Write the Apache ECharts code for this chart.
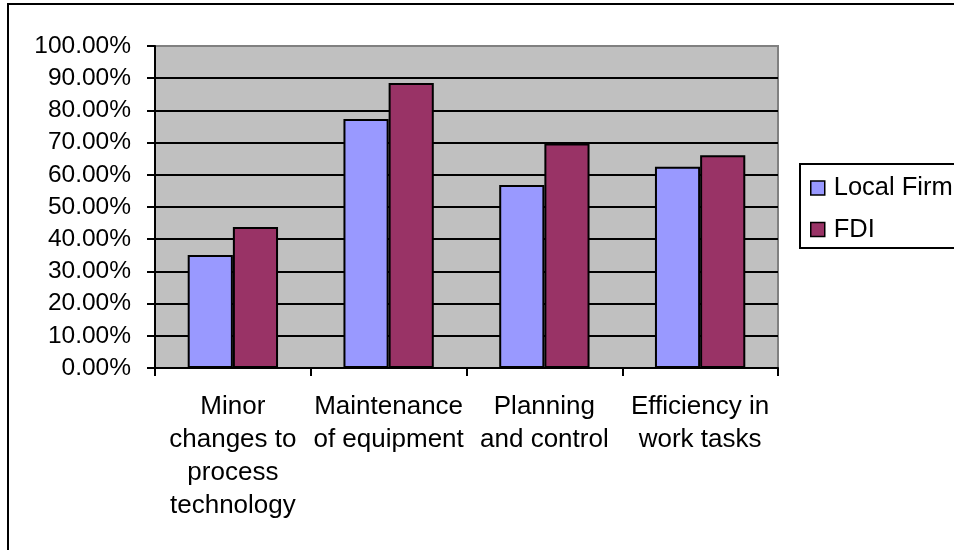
<!DOCTYPE html>
<html>
<head>
<meta charset="utf-8">
<script src="https://cdn.jsdelivr.net/npm/echarts@6/dist/echarts.min.js"></script>
<style>
  html, body { margin: 0; padding: 0; background: #fff; }
  #chart { width: 954px; height: 550px; }
</style>
</head>
<body>
<div id="chart"></div>
<script>
// Share of firms reporting each capability, by ownership type
const categories = [
  'Minor\nchanges to\nprocess\ntechnology',
  'Maintenance\nof equipment',
  'Planning\nand control',
  'Efficiency in\nwork tasks'
];
const localFirm = [35.1, 77.3, 56.8, 62.5];
const fdi = [43.8, 88.5, 69.7, 66.1];
const seriesNames = ['Local Firm', 'FDI'];

const FONT = '"Liberation Sans", Arial, sans-serif';

// 10% .. 90% gridlines black, the 100% edge grey like the frame
const splitColors = [];
for (let i = 0; i <= 10; i++) splitColors.push(i === 10 ? '#808080' : '#000000');

const chart = echarts.init(document.getElementById('chart'), null, { renderer: 'canvas' });

chart.setOption({
  animation: false,
  backgroundColor: '#ffffff',
  textStyle: { fontFamily: FONT },
  grid: {
    left: 155, top: 46, width: 623, height: 322,
    show: true,
    backgroundColor: '#c0c0c0',
    borderColor: '#808080',
    borderWidth: 2
  },
  legend: {
    data: seriesNames,
    orient: 'vertical',
    left: 810, top: 175,
    itemWidth: 14, itemHeight: 14,
    itemGap: 15.5,
    padding: 0,
    icon: 'rect',
    itemStyle: { borderColor: '#000', borderWidth: 1.5 },
    textStyle: { fontFamily: FONT, fontSize: 25.5, color: '#000', padding: [0, 0, 0, 4] }
  },
  xAxis: {
    type: 'category',
    data: categories,
    axisLine: { lineStyle: { color: '#000', width: 2 } },
    axisTick: { show: true, length: 8, lineStyle: { color: '#000', width: 2 } },
    axisLabel: {
      interval: 0, margin: 22, color: '#000',
      fontFamily: FONT, fontSize: 26, lineHeight: 33, align: 'center'
    },
    splitLine: { show: false }
  },
  yAxis: {
    type: 'value',
    min: 0, max: 100, interval: 10,
    axisLine: { show: true, lineStyle: { color: '#000', width: 2 } },
    axisTick: { show: true, length: 8, lineStyle: { color: '#000', width: 2 } },
    axisLabel: {
      margin: 24, color: '#000', fontFamily: FONT, fontSize: 24.5,
      formatter: v => v.toFixed(2) + '%'
    },
    splitLine: { show: true, lineStyle: { color: splitColors, width: 2 } }
  },
  series: [
    {
      name: seriesNames[0], type: 'bar', data: localFirm,
      barGap: '0%', barCategoryGap: '42%',
      itemStyle: { color: '#9999ff', borderColor: '#000', borderWidth: 2 }
    },
    {
      name: seriesNames[1], type: 'bar', data: fdi,
      barGap: '0%', barCategoryGap: '42%',
      itemStyle: { color: '#993366', borderColor: '#000', borderWidth: 2 }
    }
  ],
  graphic: [
    // chart frame, left and top edges
    {
      type: 'polyline', silent: true,
      shape: { points: [[8, 550], [8, 4], [954, 4]] },
      style: { stroke: '#000', lineWidth: 2, fill: null }
    },
    // legend box
    {
      type: 'rect', silent: true, z: -1,
      shape: { x: 800, y: 164, width: 200, height: 84 },
      style: { stroke: '#000', lineWidth: 2, fill: '#fff' }
    }
  ]
});
</script>
</body>
</html>
